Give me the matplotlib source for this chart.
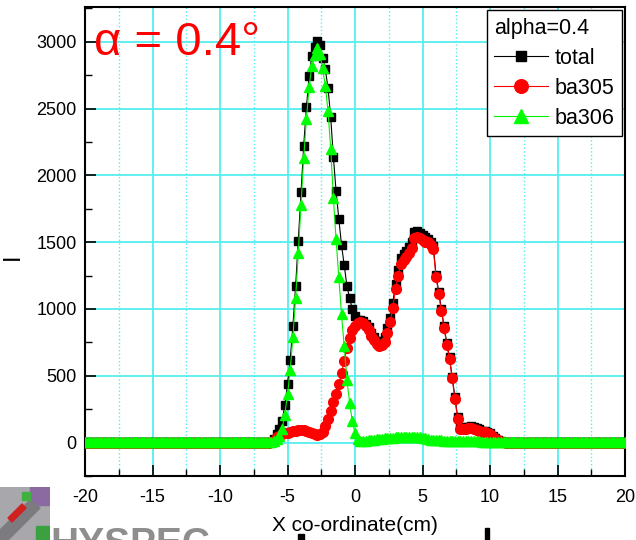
import numpy as np
import matplotlib
matplotlib.use("Agg")
import matplotlib.pyplot as plt
from matplotlib.ticker import MultipleLocator
from matplotlib.patches import Rectangle, Polygon

plt.rcParams['font.family'] = ['Liberation Sans', 'DejaVu Sans']

# Beam profile sampled every 0.2 cm from -20 to 20 cm
x_cm = np.linspace(-20, 20, 201)

# ba305 component
ba305 = ([0] * 69 +
         [3, 15, 40, 52, 62, 70, 75, 79, 84, 90, 92, 92, 92, 88, 82, 74, 62, 55,
          62, 82, 125, 175, 235, 305, 360, 435, 520, 610, 705, 780, 840,
          875, 895, 905, 895, 875, 845, 800, 765, 735, 725, 727, 755, 820, 900,
          1010, 1150, 1250, 1340, 1370, 1390, 1420, 1460, 1530, 1540, 1530,
          1515, 1505, 1498, 1480, 1450, 1240, 1110, 985, 855, 730, 625, 480,
          330, 180, 100, 100, 105, 110, 112, 105, 98, 90, 82, 76, 70, 62, 45,
          30, 18, 8, 3] +
         [0] * 45)

# ba306 component
ba306 = ([5] * 70 +
         [10, 25, 50, 100, 210, 360, 540, 790, 1080, 1420, 1780, 2130, 2420,
          2660, 2820, 2900, 2950, 2910, 2800, 2670, 2480, 2200, 1830, 1520,
          1240, 960, 720, 470, 300, 160,
          70, 25, 15, 12, 15, 18, 20, 22, 25, 28, 30, 32, 34, 36, 38, 40, 40,
          42, 42, 43, 44, 44, 45, 44, 42, 38, 32, 26, 22, 20, 18, 17, 16, 15,
          14, 14, 13, 13, 12, 12, 11, 11, 10, 10, 10, 9, 9, 8, 8, 7, 7] +
         [5] * 50)

# total intensity
total = ([5] * 69 +
         [8, 25, 65, 102, 162, 280, 435, 619, 874, 1170, 1512, 1872, 2222,
          2508, 2742, 2894, 2962, 3005, 2972, 2882, 2795, 2655, 2435, 2135,
          1880, 1675, 1480, 1330, 1175, 1080, 1000,
          945, 920, 920, 907, 890, 863, 820, 787, 760, 753, 757, 787, 854, 936,
          1048, 1190, 1290, 1382, 1412, 1433, 1464, 1504, 1575, 1584, 1572,
          1553, 1537, 1524, 1502, 1470, 1258, 1127, 1001, 870, 744, 639, 493,
          343, 192, 112, 111, 116, 120, 122, 115, 107, 99, 90, 84, 77, 69, 50,
          35, 23, 13, 8] +
         [5] * 45)

x_ticks = [-20, -15, -10, -5, 0, 5, 10, 15, 20]
y_ticks = [0, 500, 1000, 1500, 2000, 2500, 3000]

W, H = 636, 540
fig = plt.figure(figsize=(W / 100, H / 100), dpi=100)
ax = fig.add_axes([85 / W, 1 - 476 / H, 540 / W, 469 / H])

grid_c = '#55eeee'
ax.set_axisbelow(True)
ax.grid(which='major', color=grid_c, lw=1.3, ls='-')
ax.xaxis.grid(which='minor', color=grid_c, lw=1.0, ls=':')

ax.plot(x_cm, total, '-s', color='black', mfc='black', mec='black',
        ms=5.2, lw=0.8, label='total', zorder=3)
ax.plot(x_cm, ba305, '-o', color='red', mfc='red', mec='red',
        ms=7.0, lw=0.8, label='ba305', zorder=4)
ax.plot(x_cm, ba306, '-^', color='#00ee00', mfc='#00ff00', mec='#00ff00',
        ms=7.5, lw=0.8, label='ba306', zorder=5)

ax.set_xlim(-20, 20)
ax.set_ylim(-250, 3260)
ax.set_xticks(x_ticks)
ax.set_xticklabels([str(v) for v in x_ticks])
ax.set_yticks(y_ticks)
ax.set_yticklabels([str(v) for v in y_ticks])
ax.xaxis.set_minor_locator(MultipleLocator(2.5))
ax.yaxis.set_minor_locator(MultipleLocator(250))
ax.tick_params(which='major', direction='in', length=8, width=1.2,
               labelsize=13, top=False, right=False)
ax.tick_params(axis='x', which='major', pad=9)
ax.tick_params(axis='y', which='major', pad=6)
ax.tick_params(which='minor', direction='in', length=5, width=1.0,
               top=False, right=False)
for s in ax.spines.values():
    s.set_linewidth(1.5)
    s.set_color('black')

ax.set_xlabel('X co-ordinate(cm)', fontsize=15)
ax.xaxis.set_label_coords(0.5, -0.086)
ax.set_ylabel('I', fontsize=17)
ax.yaxis.set_label_coords(-0.113, 0.467)

ax.text(-19.3, 2900, 'α = 0.4°', color='red', fontsize=34,
        ha='left', va='baseline', zorder=6)

leg = ax.legend(loc='upper right', title='alpha=0.4', fontsize=15.5,
                title_fontsize=15.5, handlelength=2.5, markerscale=1.4,
                borderpad=0.35, labelspacing=0.42, handletextpad=0.3,
                borderaxespad=0.15, fancybox=False, framealpha=1,
                edgecolor='black', alignment='left')
leg.get_frame().set_linewidth(1.0)
leg.set_zorder(10)

# small facility logo in the lower-left corner
logo = fig.add_axes([0, 0, 50 / W, 53 / H])
logo.set_xlim(0, 50)
logo.set_ylim(0, 53)
logo.axis('off')
logo.add_patch(Rectangle((0, 0), 50, 53, color='#a8a8ac'))
logo.add_patch(Rectangle((30, 35), 20, 18, color='#8a6aa0'))
logo.add_patch(Rectangle((36, 0), 14, 14, color='#3aa040'))
logo.add_patch(Polygon([(0, 10), (30, 40), (40, 32), (8, 0), (0, 0)],
                       color='#7c7c80'))
logo.add_patch(Polygon([(8, 22), (22, 36), (26, 32), (12, 18)],
                       color='#d02020'))
logo.add_patch(Rectangle((22, 40), 8, 8, color='#40b040'))

fig.text(50 / W, 1 - 527 / H, 'HYSPEC', fontsize=28, fontweight='bold',
         color='#8e8e8e', ha='left', va='top')

# fragments of dark lettering along the bottom edge
fig.patches.append(Rectangle((298 / W, 0), 6 / W, 6 / H, color='black',
                             transform=fig.transFigure, figure=fig))
fig.patches.append(Rectangle((485 / W, 0), 4 / W, 12 / H, color='black',
                             transform=fig.transFigure, figure=fig))

fig.savefig('out.png', dpi=100)
